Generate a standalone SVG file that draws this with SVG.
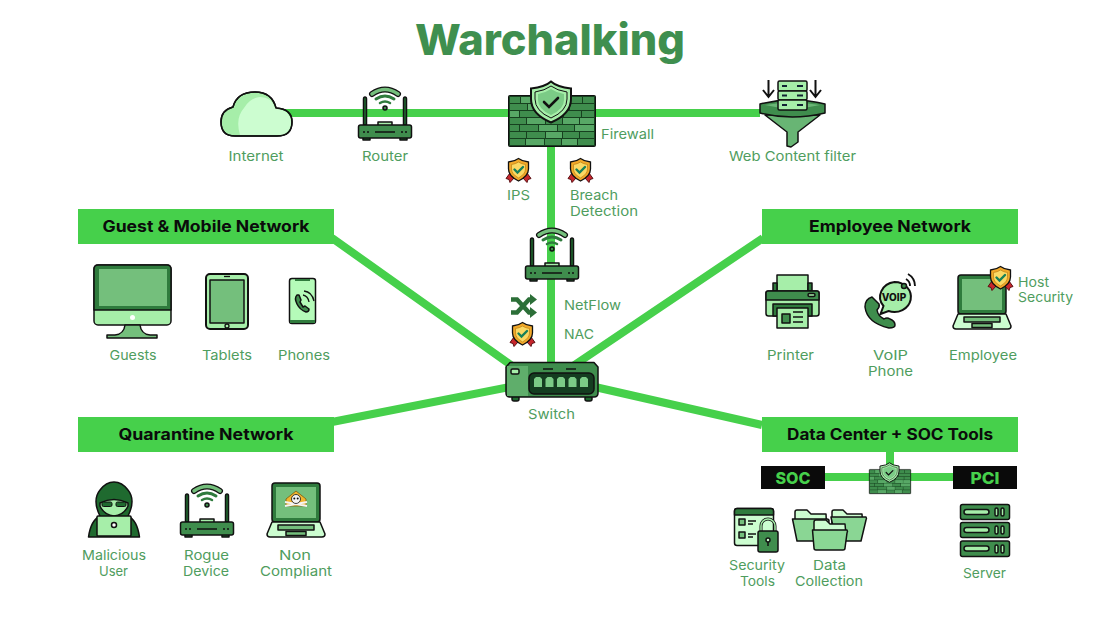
<svg xmlns="http://www.w3.org/2000/svg" width="1099" height="620" viewBox="0 0 1099 620">
<style>
text{font-family:Inter,"Open Sans","Liberation Sans",sans-serif}
.t{font-size:13.5px;fill:#4f9d5e;text-anchor:middle}
.s{text-anchor:start}
.b{font-size:15.5px;font-weight:700;fill:#0b0b0b;text-anchor:middle}
.k{font-size:16.5px;font-weight:800;fill:#46d04b;text-anchor:middle}
.c{fill:none;stroke:#46d04b;stroke-width:8}
.o{stroke:#111;stroke-width:1.5;stroke-linejoin:round}
.g1{fill:#3f8d4d}.g2{fill:#74bf7c}.g3{fill:#a6eea9}.g4{fill:#ccfdd0}.g0{fill:#1f6a2f}
</style>
<defs>
<symbol id="router" viewBox="0 0 54 53" width="54" height="53" overflow="visible">
<path d="M5.500 38V12q0-2 1.500-2t1.500 2V38zM45.500 38V12q0-2 1.500-2t1.500 2V38z" class="g0 o"/>
<path d="M14 7Q27-2 40 7" fill="none" stroke="#111" stroke-width="6" stroke-linecap="round"/>
<path d="M14 7Q27-2 40 7" fill="none" stroke="#74bf7c" stroke-width="3.500" stroke-linecap="round"/>
<path d="M18 12Q27 6 36 12" fill="none" stroke="#2f7b3d" stroke-width="3" stroke-linecap="round"/>
<path d="M22 16Q27 13 32 16" fill="none" stroke="#2f7b3d" stroke-width="2.500" stroke-linecap="round"/>
<circle cx="27" cy="21" r="2" class="g1 o"/>
<rect x="20" y="35" width="14" height="4" class="g3 o"/>
<rect x="5" y="50" width="7" height="3" class="g0 o"/><rect x="42" y="50" width="7" height="3" class="g0 o"/>
<rect x="0.500" y="38" width="53" height="13" rx="2" class="g1 o"/>
<path d="M17 45H37" stroke="#111" stroke-width="1.500"/>
<circle cx="6" cy="45" r="1" fill="#111"/><circle cx="10" cy="45" r="1" fill="#111"/><circle cx="44" cy="45" r="1" fill="#111"/><circle cx="48" cy="45" r="1" fill="#111"/>
</symbol>
<symbol id="badge" viewBox="0 0 25 25" width="25" height="25" overflow="visible">
<path d="M4 15L0 20.500l3 1 1 3 4.500-5zM21 15l4 5.500-3 1-1 3-4.500-5z" fill="#c8262c" stroke="#5a1014" stroke-width="1"/>
<path d="M12.500 0.500Q16.500 3.500 22.500 4V11Q22.500 18 12.500 23 2.500 18 2.500 11V4Q8.500 3.500 12.500 0.500Z" fill="#f2a92a" stroke="#111" stroke-width="1.300"/>
<path d="M12.500 4Q15.500 6 19.500 6.500V11Q19.500 16 12.500 20 5.500 16 5.500 11V6.500Q9.500 6 12.500 4Z" fill="#fbd964" stroke="#b97f16" stroke-width="0.700"/>
<path d="M8.500 11.500l3 3 5.500-5.500" fill="none" stroke="#17805a" stroke-width="2.400" stroke-linecap="round"/>
</symbol>
<symbol id="laptop" viewBox="0 0 58 56" width="58" height="56" overflow="visible">
<rect x="5" y="1" width="48" height="39" rx="3" fill="#2f7b3d" class="o"/>
<rect x="9" y="5" width="40" height="31" class="g2"/>
<path d="M5 40H53L58 52Q58 55 55 55H3Q0 55 0 52Z" class="g4 o"/>
<rect x="11" y="43" width="36" height="5" class="g2 o"/>
<rect x="19" y="49.500" width="20" height="4" class="g2 o"/>
</symbol>
<symbol id="firewall" viewBox="0 0 88 66" width="88" height="66" overflow="visible">
<rect x="0.500" y="14.500" width="87" height="51" rx="1" fill="#17401f" stroke="#111"/>
<g class="g1">
<rect x="2" y="16" width="10" height="6"/><rect x="13" y="16" width="21" height="6"/><rect x="35" y="16" width="21" height="6"/><rect x="57" y="16" width="17" height="6"/><rect x="75" y="16" width="11" height="6"/>
<rect x="2" y="23" width="17" height="6"/><rect x="20" y="23" width="19" height="6"/><rect x="40" y="23" width="21" height="6"/><rect x="62" y="23" width="24" height="6"/>
<rect x="2" y="30" width="9" height="6"/><rect x="12" y="30" width="21" height="6"/><rect x="34" y="30" width="21" height="6"/><rect x="56" y="30" width="17" height="6"/><rect x="74" y="30" width="12" height="6"/>
<rect x="2" y="37" width="16" height="6"/><rect x="19" y="37" width="18" height="6"/><rect x="38" y="37" width="16" height="6"/><rect x="55" y="37" width="16" height="6"/><rect x="72" y="37" width="14" height="6"/>
<rect x="2" y="44" width="9" height="6"/><rect x="12" y="44" width="18" height="6"/><rect x="31" y="44" width="18" height="6"/><rect x="50" y="44" width="16" height="6"/><rect x="67" y="44" width="19" height="6"/>
<rect x="2" y="51" width="16" height="6"/><rect x="19" y="51" width="18" height="6"/><rect x="38" y="51" width="16" height="6"/><rect x="55" y="51" width="16" height="6"/><rect x="72" y="51" width="14" height="6"/>
<rect x="2" y="58" width="15" height="6"/><rect x="18" y="58" width="18" height="6"/><rect x="37" y="58" width="16" height="6"/><rect x="54" y="58" width="15" height="6"/><rect x="70" y="58" width="16" height="6"/>
</g>
<g fill="#58a866"><rect x="2" y="30" width="9" height="6"/><rect x="55" y="37" width="16" height="6"/><rect x="19" y="37" width="18" height="6"/><rect x="31" y="44" width="18" height="6"/><rect x="67" y="44" width="19" height="6"/><rect x="18" y="58" width="18" height="6"/><rect x="54" y="58" width="15" height="6"/><rect x="20" y="23" width="19" height="6"/><rect x="38" y="51" width="16" height="6"/><rect x="13" y="16" width="21" height="6"/><rect x="72" y="37" width="14" height="6"/></g>
<path d="M43 0.500Q49 6 63 7.500V18Q63 33 43 41.500 23 33 23 18V7.500Q37 6 43 0.500Z" class="g3" stroke="#111" stroke-width="2"/>
<path d="M43 5Q49 9.500 59 11V18Q59 30 43 37 27 30 27 18V11Q37 9.500 43 5Z" fill="#a6eea9" stroke="#111" stroke-width="1"/>
<path d="M43 8Q49 12 56 13V19Q56 28 43 34 30 28 30 19V13Q37 12 43 8Z" fill="#7bcb86"/>
<path d="M36 21l5 5 9-9" fill="none" stroke="#111" stroke-width="2.600" stroke-linecap="round"/>
</symbol>
</defs>
<rect width="1099" height="620" fill="#fff"/>
<text x="550" y="55" font-size="43" font-weight="800" fill="#3f8f4f" text-anchor="middle" textLength="270" lengthAdjust="spacingAndGlyphs">Warchalking</text>
<g id="connectors">
<path class="c" d="M285 113H760M551 145V365M332 238L515 368M763 238L570 368M332 422L510 387M762 425L595 387M825 477H953"/>
<path class="c" d="M890 452V470"/>
</g>
<g id="internet">
<path d="M235 136Q221 136 221 122 221 110 233 107 237 92 255 92 272 92 276 108 292 109 292 122 292 136 277 136Z" class="g3 o"/>
<path d="M240 135Q235 118 244 108 250 98 260 97 272 97 275 108 290 110 291 122 291 132 282 135Z" class="g4"/>
<path d="M235 136Q221 136 221 122 221 110 233 107 237 92 255 92 272 92 276 108 292 109 292 122 292 136 277 136Z" fill="none" class="o"/>
<text class="t" x="256" y="161" textLength="55" lengthAdjust="spacingAndGlyphs">Internet</text>
</g>
<g id="router-top"><use href="#router" x="358" y="87"/><text class="t" x="385" y="161" textLength="46" lengthAdjust="spacingAndGlyphs">Router</text></g>
<g id="firewall-main"><use href="#firewall" x="508" y="81"/><text class="t s" x="601" y="139" textLength="53" lengthAdjust="spacingAndGlyphs">Firewall</text></g>
<g id="ips"><use href="#badge" x="506" y="158"/><text class="t" x="518.500" y="200" textLength="23" lengthAdjust="spacingAndGlyphs">IPS</text></g>
<g id="breach"><use href="#badge" x="568" y="158"/><text class="t s" x="570" y="200" textLength="48" lengthAdjust="spacingAndGlyphs">Breach</text><text class="t s" x="570" y="216" textLength="68" lengthAdjust="spacingAndGlyphs">Detection</text></g>
<g id="web-filter">
<path d="M768.500 80V96M763 90l5.500 7 5.500-7M815.500 80V96M810 90l5.500 7 5.500-7" fill="none" stroke="#111" stroke-width="2"/>
<path d="M765 115L787 132V146L791 147 798 142V132L820 115Z" fill="#68b574" class="o"/>
<path d="M760 104Q792 96 825 104V113Q792 121 760 113Z" class="g1 o"/>
<path d="M765 105Q792 100 820 105Q792 112 765 105Z" fill="#6ab676"/>
<rect x="778" y="81" width="29" height="10" rx="1.500" class="g3 o"/><rect x="778" y="91" width="29" height="9" rx="1.500" class="g3 o"/><rect x="778" y="100" width="29" height="10" rx="1.500" class="g3 o"/>
<path d="M782 86h5M782 95.500h5M782 105h5M797 86h6M797 95.500h6M797 105h6" stroke="#123" stroke-width="2"/>
<text class="t" x="792.500" y="161" textLength="127" lengthAdjust="spacingAndGlyphs">Web Content filter</text>
</g>
<g id="guest-network"><rect x="78" y="209" width="256" height="35" fill="#46d04b"/><text class="b" x="206" y="231.500" textLength="207" lengthAdjust="spacingAndGlyphs">Guest &amp; Mobile Network</text></g>
<g id="employee-network"><rect x="762" y="209" width="256" height="35" fill="#46d04b"/><text class="b" x="890" y="231.500" textLength="162" lengthAdjust="spacingAndGlyphs">Employee Network</text></g>
<g id="quarantine-network"><rect x="78" y="417" width="256" height="35" fill="#46d04b"/><text class="b" x="206" y="439.500" textLength="175" lengthAdjust="spacingAndGlyphs">Quarantine Network</text></g>
<g id="datacenter-network"><rect x="762" y="417" width="256" height="35" fill="#46d04b"/><text class="b" x="890" y="439.500" textLength="206" lengthAdjust="spacingAndGlyphs">Data Center + SOC Tools</text></g>
<g id="router-mid"><use href="#router" x="525" y="228"/></g>
<g id="netflow">
<path d="M511 299.500h6l12 13h3M511 312.500h6l12-13h3" fill="none" stroke="#2c6f38" stroke-width="4.500"/>
<path d="M530 294l7 5.500-7 5.500zM530 307l7 5.500-7 5.500z" fill="#2c6f38"/>
<text class="t s" x="564" y="310" textLength="57" lengthAdjust="spacingAndGlyphs">NetFlow</text>
</g>
<g id="nac"><use href="#badge" x="510" y="322"/><text class="t s" x="564" y="339" textLength="30" lengthAdjust="spacingAndGlyphs">NAC</text></g>
<g id="switch">
<rect x="512" y="396" width="7" height="5" rx="2" class="g0 o"/><rect x="585" y="396" width="7" height="5" rx="2" class="g0 o"/>
<path d="M510 362.500H594L598 367V393Q598 397 594 397H510Q506 397 506 393V367Z" class="g1 o"/>
<rect x="507" y="366" width="21" height="30" fill="#5fae6b"/>
<rect x="511" y="369" width="8" height="5" rx="1.500" class="g3 o"/>
<rect x="529" y="373" width="65" height="21" rx="5" fill="#143d20" class="o"/>
<g fill="#7bcb86">
<path d="M534 379l2-2h4l2 2v8h-8zM545.500 379l2-2h4l2 2v8h-8zM557 379l2-2h4l2 2v8h-8zM568.500 379l2-2h4l2 2v8h-8zM580 379l2-2h4l2 2v8h-8z"/>
</g>
<path d="M543 369h10M566 369h10" stroke="#111" stroke-width="1.500"/>
<text class="t" x="551.500" y="419" textLength="47" lengthAdjust="spacingAndGlyphs">Switch</text>
</g>
<g id="guests">
<rect x="94" y="265" width="77" height="60" rx="4" class="g3 o"/>
<path d="M94 310V269Q94 265 98 265H167Q171 265 171 269V310Z" fill="#2f7b3d" class="o"/>
<rect x="99" y="269" width="68" height="37" class="g2"/>
<circle cx="132.500" cy="317.500" r="2.500" fill="#fff"/>
<path d="M125 325H140Q141 334 150 335H157V338H107V335H115Q124 334 125 325Z" class="g2 o"/>
<text class="t" x="133" y="360" textLength="47" lengthAdjust="spacingAndGlyphs">Guests</text>
</g>
<g id="tablets">
<rect x="206" y="274" width="42" height="55" rx="4" class="g3" stroke="#111" stroke-width="2"/>
<rect x="210" y="280" width="34" height="43" class="g2 o"/>
<circle cx="227" cy="326" r="2" fill="none" stroke="#111" stroke-width="1.300"/>
<path d="M224 276.500h6" stroke="#111" stroke-width="1.300"/>
<text class="t" x="227" y="360" textLength="50" lengthAdjust="spacingAndGlyphs">Tablets</text>
</g>
<g id="phones">
<rect x="289.500" y="278.500" width="26" height="45" rx="2.500" fill="#b5fbb9" class="o"/>
<path d="M295 279h15v2h-15zM290 320h25v3h-25z" fill="#2f7b3d"/>
<path d="M297 295q-3 3 0 9 3 6 9 8 3 0 3-3l-4-3-2 1-3-5 1-2-2-5z" class="g1 o"/>
<path d="M303 295q5 1 6 7M304 291q8 1 10 10" fill="none" stroke="#111" stroke-width="1.300"/>
<text class="t" x="304" y="360" textLength="52" lengthAdjust="spacingAndGlyphs">Phones</text>
</g>
<g id="printer">
<rect x="777" y="275" width="31" height="20" class="g3 o"/>
<path d="M773 283h4v8h-4zM808 283h4v8h-4z" fill="#2f7b3d" class="o"/>
<rect x="766" y="291" width="53" height="25" rx="2.500" class="g3 o"/>
<path d="M766 300V293Q766 291 768 291H817Q819 291 819 293V300Z" class="g1 o"/>
<rect x="808" y="293.500" width="7" height="3" rx="1.500" class="g3 o"/>
<rect x="773" y="304" width="39" height="12" fill="#2f7b3d" class="o"/>
<rect x="777" y="308" width="31" height="20" class="g3 o"/>
<rect x="782" y="314" width="8" height="9" class="g1 o"/>
<path d="M793 312h10M793 317h10M793 322h10" stroke="#111" stroke-width="1.300"/>
<text class="t" x="790.500" y="360" textLength="47" lengthAdjust="spacingAndGlyphs">Printer</text>
</g>
<g id="voip">
<path d="M872 297q-7 2-7 10 2 16 24 21 6 0 6-3 0-4-5-6-3-2-6 0-6-3-7-9 3-3 2-6z" class="g1 o"/>
<path d="M894.500 282a16.500 15 0 1 1-6 29l-8 3 3-8a16.500 15 0 0 1 11-24z" class="g3" stroke="#111" stroke-width="2"/>
<path d="M906 279a8 8 0 0 1 4 7M908 274a14 14 0 0 1 7 12" fill="none" stroke="#111" stroke-width="1.800"/>
<circle cx="904" cy="286" r="2.500" class="g1 o"/>
<text x="894" y="301" font-size="10" font-weight="800" fill="#111" text-anchor="middle">VOIP</text>
<text class="t" x="890.500" y="360" textLength="35" lengthAdjust="spacingAndGlyphs">VoIP</text>
<text class="t" x="890.500" y="376" textLength="45" lengthAdjust="spacingAndGlyphs">Phone</text>
</g>
<g id="employee">
<use href="#laptop" x="953" y="274"/><use href="#badge" x="988" y="266"/>
<text class="t" x="983" y="360" textLength="68" lengthAdjust="spacingAndGlyphs">Employee</text>
<text class="t s" x="1018" y="287" textLength="31" lengthAdjust="spacingAndGlyphs">Host</text>
<text class="t s" x="1018" y="302" textLength="55" lengthAdjust="spacingAndGlyphs">Security</text>
</g>
<g id="malicious">
<path d="M88.500 537Q91 520 100 516 92 500 100 490 106 482 114 482 122 482 128 490 136 500 128 516 137 520 139.500 537Z" class="g0 o"/>
<path d="M100 503q14-7 28 0v3q-4 9-14 10-10-1-14-10z" class="g3 o"/>
<rect x="102" y="502" width="10" height="4.500" rx="1.500" fill="#1f6a2f" stroke="#111"/><rect x="116" y="502" width="10" height="4.500" rx="1.500" fill="#1f6a2f" stroke="#111"/>
<rect x="97" y="516" width="34" height="20" rx="1" class="g3 o"/>
<circle cx="114" cy="525" r="2.500" fill="#fff" stroke="#111" stroke-width="1.500"/>
<text class="t" x="114" y="560" textLength="64" lengthAdjust="spacingAndGlyphs">Malicious</text>
<text class="t" x="113.500" y="576" textLength="29" lengthAdjust="spacingAndGlyphs">User</text>
</g>
<g id="rogue"><use href="#router" x="180" y="484"/>
<text class="t" x="206.500" y="560" textLength="45" lengthAdjust="spacingAndGlyphs">Rogue</text>
<text class="t" x="206" y="576" textLength="46" lengthAdjust="spacingAndGlyphs">Device</text></g>
<g id="noncompliant"><use href="#laptop" x="267" y="482"/>
<path d="M296 491l10 8v7h-20v-7z" fill="#f2b52e" stroke="#7a5a10" stroke-width=".8"/>
<path d="M285 506l22-4M307 506l-22-4" stroke="#f4f4f4" stroke-width="2"/>
<circle cx="296" cy="499" r="4.500" fill="#f4f4f4" stroke="#111" stroke-width=".8"/>
<circle cx="294.300" cy="498.500" r="1" fill="#111"/><circle cx="297.700" cy="498.500" r="1" fill="#111"/>
<text class="t" x="295" y="560" textLength="32" lengthAdjust="spacingAndGlyphs">Non</text>
<text class="t" x="296" y="576" textLength="72" lengthAdjust="spacingAndGlyphs">Compliant</text></g>
<g id="soc"><rect x="761" y="466" width="64" height="23" fill="#0a0a0a"/><text class="k" x="793" y="483.500" textLength="35" lengthAdjust="spacingAndGlyphs">SOC</text></g>
<g id="pci"><rect x="953" y="466" width="64" height="23" fill="#0a0a0a"/><text class="k" x="985" y="483.500" textLength="29" lengthAdjust="spacingAndGlyphs">PCI</text></g>
<g id="firewall-small"><use href="#firewall" transform="translate(869 462.500) scale(.477)"/></g>
<g id="security-tools">
<rect x="734.500" y="508.500" width="39" height="37" rx="2.500" class="g4 o"/>
<path d="M734.500 515V511Q734.500 508.500 737 508.500H771Q773.500 508.500 773.500 511V515Z" fill="#2f7b3d" class="o"/>
<rect x="739" y="519" width="6" height="6" fill="#74bf7c" class="o"/><rect x="739" y="532" width="6" height="6" fill="#74bf7c" class="o"/>
<path d="M748 521h8M748 524h5M748 534h8M748 537h5" stroke="#111" stroke-width="1.300"/>
<path d="M761 531v-5a7 7 0 0 1 14 0v5" fill="none" stroke="#111" stroke-width="3"/>
<path d="M761 531v-5a7 7 0 0 1 14 0v5" fill="none" stroke="#a6eea9" stroke-width="1.500"/>
<rect x="758" y="531" width="20" height="21" rx="2" class="g1 o"/>
<circle cx="768" cy="540" r="2" class="g4 o" stroke-width="1"/>
<path d="M768 542v4" stroke="#111" stroke-width="1.500"/>
<text class="t" x="757" y="569.500" textLength="56" lengthAdjust="spacingAndGlyphs">Security</text>
<text class="t" x="757.500" y="585.500" textLength="35" lengthAdjust="spacingAndGlyphs">Tools</text>
</g>
<g id="data-collection">
<path d="M795 528V512Q795 510 797 510H807L811 514H826L827 535H800Z" class="g4 o"/>
<path d="M832 530V512Q832 510 834 510H843L847 514H862L863 530Z" class="g4 o"/>
<path d="M792.500 519H827Q829 519 829 521L826 541H797Z" fill="#8ad694" class="o"/>
<path d="M831 517H866Q867 518 866 520L861 541H836Z" fill="#8ad694" class="o"/>
<path d="M814 535V522Q814 520 816 520H826L830 524H845L846 535Z" class="g4 o"/>
<path d="M812.500 530H847Q848 531 847 533L845 548Q845 550 843 550H816Q814 550 814 548Z" fill="#8ad694" class="o"/>
<text class="t" x="829.500" y="569.500" textLength="33" lengthAdjust="spacingAndGlyphs">Data</text>
<text class="t" x="829" y="585.500" textLength="68" lengthAdjust="spacingAndGlyphs">Collection</text>
</g>
<g id="server">
<rect x="960.500" y="504.500" width="49" height="15" rx="2" class="g1 o"/><rect x="960.500" y="522.500" width="49" height="15" rx="2" class="g1 o"/><rect x="960.500" y="541" width="49" height="15.500" rx="2" class="g1 o"/>
<rect x="964" y="509.500" width="25" height="5" rx="2.500" class="g3 o"/><rect x="964" y="527.500" width="25" height="5" rx="2.500" class="g3 o"/><rect x="964" y="546" width="25" height="5" rx="2.500" class="g3 o"/>
<rect x="995" y="508" width="3" height="8" rx="1.500" class="g3 o" stroke-width="1"/><rect x="1001" y="508" width="3" height="8" rx="1.500" class="g3 o" stroke-width="1"/>
<rect x="995" y="526" width="3" height="8" rx="1.500" class="g3 o" stroke-width="1"/><rect x="1001" y="526" width="3" height="8" rx="1.500" class="g3 o" stroke-width="1"/>
<rect x="995" y="545" width="3" height="8" rx="1.500" class="g3 o" stroke-width="1"/><rect x="1001" y="545" width="3" height="8" rx="1.500" class="g3 o" stroke-width="1"/>
<text class="t" x="984.500" y="578" textLength="43" lengthAdjust="spacingAndGlyphs">Server</text>
</g>
</svg>
